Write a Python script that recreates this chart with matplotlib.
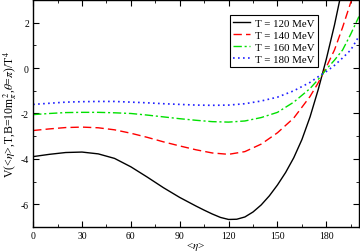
import matplotlib
matplotlib.use('Agg')
import matplotlib.pyplot as plt
from matplotlib.ticker import MultipleLocator

plt.rcParams['font.family'] = ['Liberation Serif', 'DejaVu Serif']
plt.rcParams['mathtext.fontset'] = 'stix'
plt.rcParams['axes.unicode_minus'] = False

# valores
eta = [0, 10, 20, 30, 40, 50, 60, 70, 80, 90, 100, 110, 120, 130, 140, 150, 160, 170,
       175, 180, 185, 190, 195, 200]
eta_120 = [0, 10, 20, 30, 40, 50, 60, 70, 80, 90, 100, 105, 110, 115, 120, 125, 130, 135,
           140, 145, 150, 155, 160, 165, 170, 175, 180, 185, 190]

v120 = [-3.9, -3.8, -3.72, -3.7, -3.78, -3.98, -4.35, -4.8, -5.27, -5.7, -6.08, -6.26,
        -6.43, -6.58, -6.67, -6.66, -6.56, -6.34, -6.03, -5.63, -5.15, -4.6, -3.95,
        -3.15, -2.15, -0.95, 0.4, 1.9, 3.6]
v140 = [-2.75, -2.68, -2.62, -2.6, -2.63, -2.72, -2.87, -3.05, -3.25, -3.43, -3.6, -3.74,
        -3.8, -3.68, -3.35, -2.85, -2.2, -1.25, -0.65, 0.05, 0.8, 1.8, 2.9, 4.0]
v160 = [-2.05, -2.0, -1.96, -1.95, -1.95, -1.97, -2.0, -2.07, -2.15, -2.23, -2.3, -2.36,
        -2.38, -2.33, -2.18, -1.95, -1.5, -0.9, -0.5, -0.05, 0.35, 0.8, 1.5, 2.27]
v180 = [-1.6, -1.55, -1.5, -1.48, -1.47, -1.47, -1.5, -1.53, -1.57, -1.6, -1.63, -1.64,
        -1.63, -1.57, -1.45, -1.28, -1.0, -0.63, -0.38, -0.15, 0.12, 0.45, 0.8, 1.4]

etiquetas = ['T = 120 MeV', 'T = 140 MeV', 'T = 160 MeV', 'T = 180 MeV']

fig = plt.figure(figsize=(3.6, 2.53), dpi=100)
ax = fig.add_axes([0.092, 0.099, 0.905, 0.897])

ax.plot(eta_120, v120, color='black', lw=1.0, ls='-', label=etiquetas[0])
ax.plot(eta, v140, color='#ff0000', lw=1.0, ls=(0, (6, 3)), label=etiquetas[1])
ax.plot(eta, v160, color='#00e000', lw=1.0, ls=(0, (6, 2, 1.5, 2)), label=etiquetas[2])
ax.plot(eta, v180, color='#2020ff', lw=1.2, ls=(0, (1, 2)), label=etiquetas[3])

ax.set_xlim(0, 200)
ax.set_ylim(-7, 3)
ax.xaxis.set_major_locator(MultipleLocator(30))
ax.xaxis.set_minor_locator(MultipleLocator(15))
ax.yaxis.set_major_locator(MultipleLocator(2))
ax.yaxis.set_minor_locator(MultipleLocator(1))
ax.tick_params(which='both', direction='in', top=True, right=True, labelsize=7, pad=3)
ax.tick_params(which='major', length=4)
ax.tick_params(which='minor', length=2)
for s in ax.spines.values():
    s.set_linewidth(1.0)

ax.set_xlabel(r'<$\eta$>', fontsize=8)
ax.xaxis.set_label_coords(0.5, -0.055, transform=ax.transAxes)
ax.xaxis.label.set_va('top')
ax.set_ylabel(r'V(<$\eta$>,T,B=10m$_\pi^{\,2}$,$\theta$=$\pi$)/T$^4$', fontsize=8.5, labelpad=1)

leg = ax.legend(loc='upper right', bbox_to_anchor=(0.874, 0.934), fontsize=7.8,
                frameon=True, fancybox=False, edgecolor='black', framealpha=1,
                borderaxespad=0, handlelength=1.5, borderpad=0.3, labelspacing=0.22,
                handletextpad=0.5)
leg.get_frame().set_linewidth(0.8)

fig.savefig('out.png', dpi=100)
